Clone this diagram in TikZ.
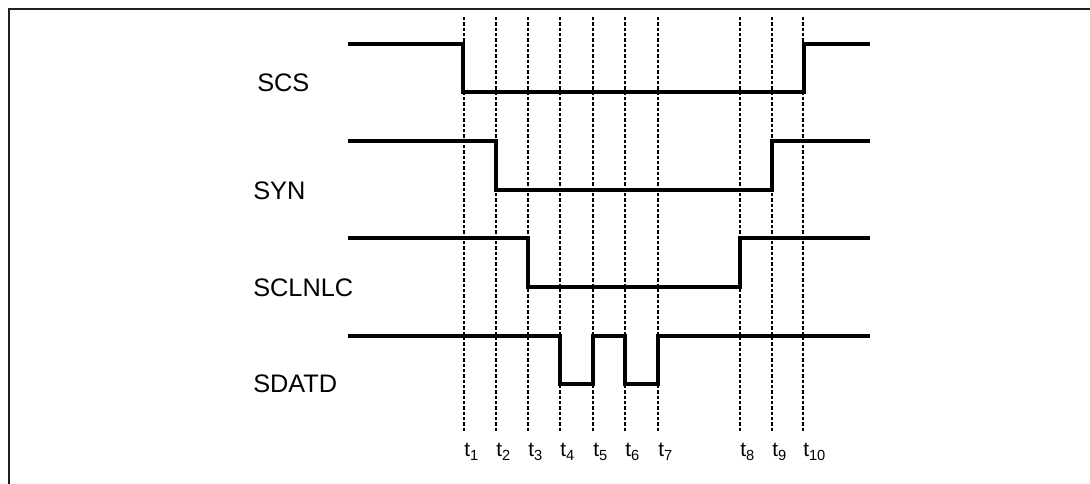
\documentclass[tikz,border=0pt]{standalone}
\usepackage{fontspec}
\setmainfont{Liberation Sans}
\begin{document}
\begin{tikzpicture}[x=0.75pt,y=0.75pt,yscale=-1,xscale=1,
    wave/.style={line width=2.8pt, line join=miter},
    timemark/.style={line width=1pt, dash pattern=on 2.5pt off 1.5pt},
    signame/.style={anchor=base west, inner sep=0pt, font=\fontsize{19}{21}\selectfont},
    timename/.style={anchor=base west, inner sep=0pt, font=\fontsize{15.5}{17}\selectfont}]
\useasboundingbox (0,0) rectangle (1090,484);

%Frame (only top and left edge inside the picture)
\draw [line width=2pt, color={rgb, 255:red, 30; green, 30; blue, 30}] (9,484) -- (9,9) -- (1090,9) ;

%Dashed time marks
\foreach \x/\n in {464/1,496/2,528/3,560/4,593/5,625/6,658/7,740/8,772/9,803/10}{
    \draw [timemark] (\x,17) -- (\x,431) ;
    \node [timename] (t\n) at (\x,457) {t\raisebox{-2.4pt}{\fontsize{11}{11}\selectfont\n}};
}

%Waveform: SCS
\draw [wave] (348,44) -- (463,44) -- (463,92) -- (804,92) -- (804,44) -- (870,44) ;
%Waveform: SYN
\draw [wave] (348,141) -- (496,141) -- (496,190) -- (772,190) -- (772,141) -- (870,141) ;
%Waveform: SCLNLC
\draw [wave] (348,238) -- (528,238) -- (528,287) -- (740,287) -- (740,238) -- (870,238) ;
%Waveform: SDATD
\draw [wave] (348,336) -- (560,336) -- (560,384) -- (593,384) -- (593,336) -- (625,336) -- (625,384) -- (658,384) -- (658,336) -- (870,336) ;

% Text Node
\node [signame] (scs) at (257,92) {SCS};
% Text Node
\node [signame] (syn) at (253,200) {SYN};
% Text Node
\node [signame] (sclnlc) at (253,297) {SCLNLC};
% Text Node
\node [signame] (sdatd) at (253,393) {SDATD};
\end{tikzpicture}
\end{document}
